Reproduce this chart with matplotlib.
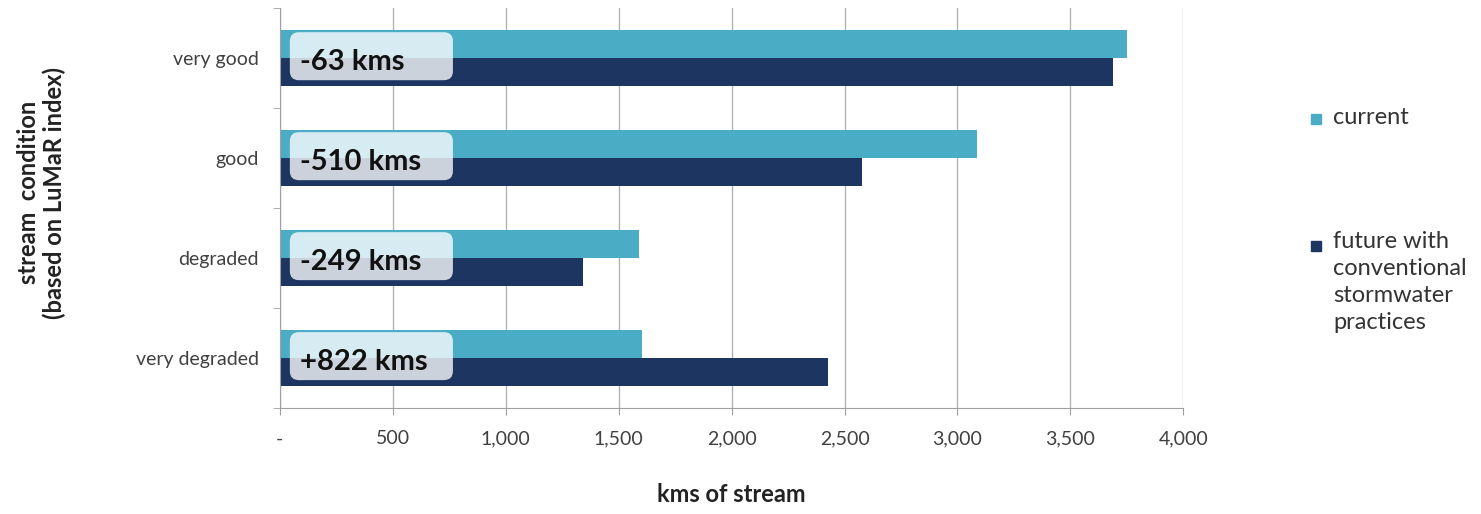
import matplotlib.pyplot as plt
from matplotlib.patches import FancyBboxPatch, Rectangle
import numpy as np

plt.rcParams['font.family'] = ['Lato', 'DejaVu Sans']

# stream condition classes, bottom to top
conditions = ['very degraded', 'degraded', 'good', 'very good']
current = [1604, 1591, 3088, 3752]
future = [2426, 1342, 2578, 3689]
change_labels = ['+822 kms', '-249 kms', '-510 kms', '-63 kms']

series_names = ['current', 'future with\nconventional\nstormwater\npractices']
colors = ['#4bacc6', '#1c3661']
xticks = [0, 500, 1000, 1500, 2000, 2500, 3000, 3500, 4000]
xtick_labels = ['-', '500', '1,000', '1,500', '2,000', '2,500', '3,000', '3,500', '4,000']

fig = plt.figure(figsize=(14.81, 5.14), dpi=100)
ax = fig.add_axes([0.189, 0.206, 0.610, 0.778])

y = np.arange(len(conditions))
h = 0.28
ax.barh(y + h / 2, current, height=h, color=colors[0], zorder=2)
ax.barh(y - h / 2, future, height=h, color=colors[1], zorder=2)

ax.set_xlim(0, 4000)
ax.set_ylim(-0.5, 3.5)
ax.set_xticks(xticks)
ax.set_xticklabels(xtick_labels)
ax.set_yticks(y)
ax.set_yticklabels(conditions)
ax.set_yticks(np.arange(-0.5, 4, 1), minor=True)
ax.tick_params(axis='y', which='major', length=0, pad=15, labelsize=14, labelcolor='#404040')
ax.tick_params(axis='y', which='minor', length=5, color='#a0a0a0')
ax.tick_params(axis='x', length=5, color='#a0a0a0', pad=11, labelsize=14, labelcolor='#404040')
ax.grid(axis='x', color='#b4b4b4', linewidth=1, zorder=0)
for s in ['top', 'right']:
    ax.spines[s].set_visible(False)
for s in ['left', 'bottom']:
    ax.spines[s].set_color('#a0a0a0')

ax.set_xlabel('kms of stream', fontsize=17, fontweight='bold', labelpad=26, color='#222222')
fig.text(0.028, 0.625, 'stream  condition\n(based on LuMaR index)', rotation=90,
         ha='center', va='center', fontsize=17, fontweight='bold', color='#222222',
         linespacing=1.1)

# change annotation boxes
bbox = ax.get_window_extent()
px_x = bbox.width / 4000
px_y = bbox.height / 4
for yi, lab in zip(y, change_labels):
    box = FancyBboxPatch((44, yi - 0.22), 722, 0.48,
                         boxstyle='round,pad=0,rounding_size=40',
                         mutation_aspect=px_x / px_y,
                         facecolor='white', alpha=0.78, edgecolor='none', zorder=3)
    ax.add_patch(box)
    ax.text(90, yi - 0.04, lab, fontsize=21, fontweight='bold', va='center', ha='left',
            color='#111111', zorder=4)

# legend
leg_x = 0.900
leg_rows = [(1 - 118 / 514, series_names[0]), (1 - 245 / 514, series_names[1])]
for (ly, name), c in zip(leg_rows, colors):
    fig.patches.append(Rectangle((leg_x - 0.0145, ly - 0.011), 0.0068, 0.0196,
                                 transform=fig.transFigure, color=c))
    fig.text(leg_x, ly + (0.028 if '\n' in name else 0), name, fontsize=17,
             va='top' if '\n' in name else 'center',
             ha='left', color='#333333', linespacing=1.36,
             transform=fig.transFigure)

fig.savefig('out.png', dpi=100)
